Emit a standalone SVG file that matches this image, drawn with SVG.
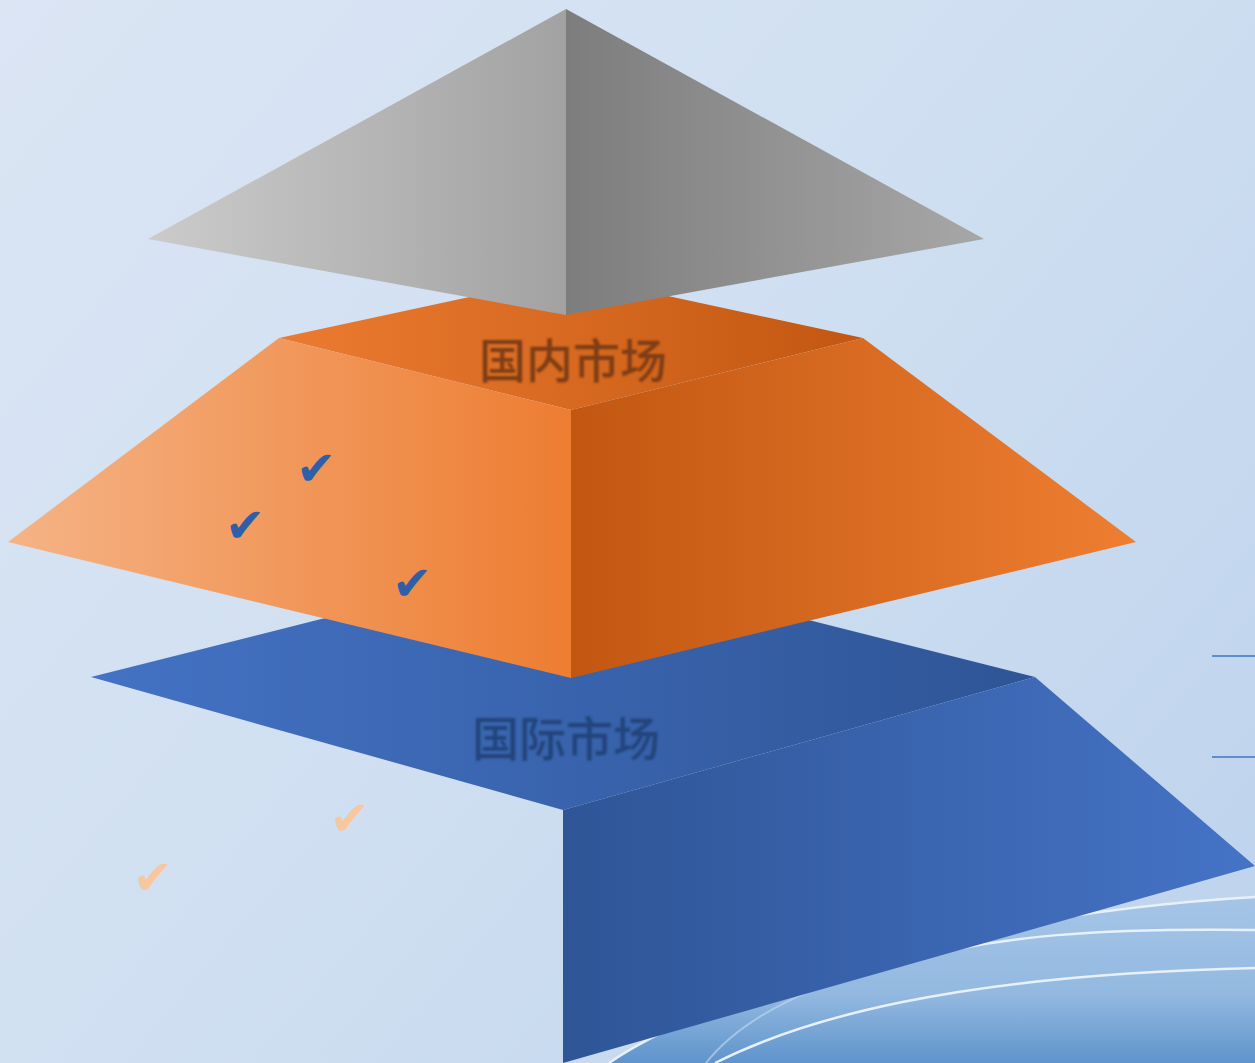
<svg xmlns="http://www.w3.org/2000/svg" width="1255" height="1063" viewBox="0 0 1255 1063">
  <defs>
    <linearGradient id="bg" x1="0" y1="0" x2="1255" y2="1063" gradientUnits="userSpaceOnUse">
      <stop offset="0" stop-color="#dbe5f4"/>
      <stop offset="0.5" stop-color="#cfdff1"/>
      <stop offset="1" stop-color="#bcd2ec"/>
    </linearGradient>
    <linearGradient id="grayL" x1="148" y1="0" x2="566" y2="0" gradientUnits="userSpaceOnUse">
      <stop offset="0" stop-color="#cbcbcb"/>
      <stop offset="1" stop-color="#a2a2a2"/>
    </linearGradient>
    <linearGradient id="grayR" x1="566" y1="0" x2="984" y2="0" gradientUnits="userSpaceOnUse">
      <stop offset="0" stop-color="#7d7d7d"/>
      <stop offset="1" stop-color="#a7a7a7"/>
    </linearGradient>
    <linearGradient id="orTop" x1="279" y1="0" x2="863" y2="0" gradientUnits="userSpaceOnUse">
      <stop offset="0" stop-color="#eb7b30"/>
      <stop offset="1" stop-color="#c35711"/>
    </linearGradient>
    <linearGradient id="orL" x1="8" y1="0" x2="571" y2="0" gradientUnits="userSpaceOnUse">
      <stop offset="0" stop-color="#f5b386"/>
      <stop offset="1" stop-color="#ed7d31"/>
    </linearGradient>
    <linearGradient id="orR" x1="571" y1="0" x2="1136" y2="0" gradientUnits="userSpaceOnUse">
      <stop offset="0" stop-color="#c25711"/>
      <stop offset="1" stop-color="#ee7e31"/>
    </linearGradient>
    <linearGradient id="blTop" x1="91" y1="0" x2="1035" y2="0" gradientUnits="userSpaceOnUse">
      <stop offset="0" stop-color="#4472c4"/>
      <stop offset="1" stop-color="#2e5596"/>
    </linearGradient>
    <linearGradient id="blR" x1="563" y1="0" x2="1255" y2="0" gradientUnits="userSpaceOnUse">
      <stop offset="0" stop-color="#2e5596"/>
      <stop offset="1" stop-color="#4573c6"/>
    </linearGradient>
    <linearGradient id="wave" x1="0" y1="890" x2="0" y2="1063" gradientUnits="userSpaceOnUse">
      <stop offset="0" stop-color="#a6c6e7"/>
      <stop offset="0.6" stop-color="#93b9e0"/>
      <stop offset="1" stop-color="#5f94cc"/>
    </linearGradient>
    <filter id="soft" x="-10%" y="-10%" width="120%" height="120%">
      <feGaussianBlur stdDeviation="0.9"/>
    </filter>
  </defs>
  <style>
    .lbl { font-family: "Noto Sans CJK SC", "Noto Sans", sans-serif; font-size: 47px; font-weight: 500; text-anchor: middle; filter: url(#soft); }
    .chk { font-family: "DejaVu Sans", sans-serif; font-size: 48px; text-anchor: middle; }
    .chkB { fill: #2f5fa8; }
    .chkO { fill: #f7c7a0; }
    .wl { fill: none; stroke: #e8f0f9; stroke-width: 2.5; }
    .rl { stroke: #5b8fd0; stroke-width: 2; }
  </style>

  <rect x="0" y="0" width="1255" height="1063" fill="url(#bg)"/>

  <g id="background-wave">
    <path d="M609,1063 C700,1000 950,915 1255,897 L1255,1063 Z" fill="url(#wave)"/>
    <path class="wl" d="M609,1063 C700,1000 950,915 1255,897"/>
    <path class="wl" d="M900,962 C1000,935 1100,928 1255,930"/>
    <path class="wl" d="M715,1063 C800,1020 950,975 1255,968"/>
    <path d="M706,1063 Q740,1020 813,990" fill="none" stroke="#b9d3ee" stroke-width="2" opacity="0.7"/>
  </g>

  <g id="side-lines">
    <line class="rl" x1="1212" y1="656" x2="1255" y2="656"/>
    <line class="rl" x1="1212" y1="757" x2="1255" y2="757"/>
  </g>

  <g id="international-market">
    <polygon points="91,677 563,558 1035,677 563,810" fill="url(#blTop)"/>
    <polygon points="563,810 1035,677 1255,866 563,1063" fill="url(#blR)"/>
    <text class="lbl" x="566" y="756" fill="#24447b">国际市场</text>
  </g>

  <g id="domestic-market">
    <polygon points="279,338 571,275 863,338 571,410" fill="url(#orTop)"/>
    <polygon points="279,338 571,410 571,678 8,542" fill="url(#orL)"/>
    <polygon points="571,410 863,338 1136,542 571,678" fill="url(#orR)"/>
    <text class="lbl" x="573" y="378" fill="#7e3c12">国内市场</text>
  </g>

  <g id="top-pyramid">
    <polygon points="566,9 148,239 566,315" fill="url(#grayL)"/>
    <polygon points="566,9 984,239 566,315" fill="url(#grayR)"/>
  </g>

  <g id="checkmarks">
    <text class="chk chkB" x="316" y="485">✔</text>
    <text class="chk chkB" x="245" y="542">✔</text>
    <text class="chk chkB" x="412" y="600">✔</text>
    <text class="chk chkO" x="350" y="835">✔</text>
    <text class="chk chkO" x="153" y="894">✔</text>
  </g>
</svg>
